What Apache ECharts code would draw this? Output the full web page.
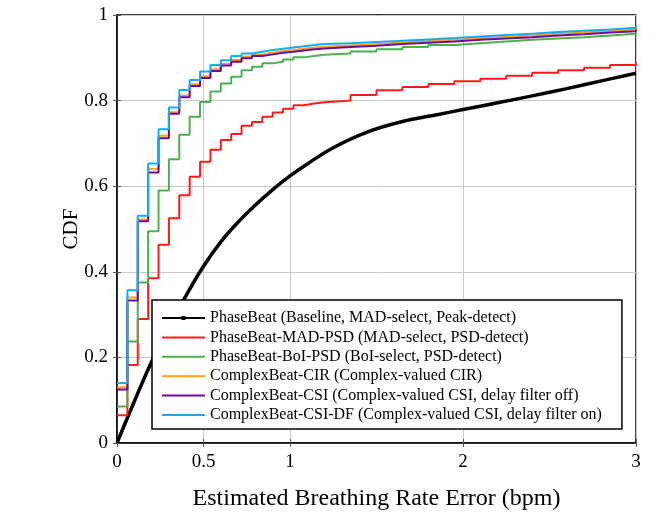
<!DOCTYPE html>
<html>
<head>
<meta charset="utf-8">
<title>CDF</title>
<script src="https://cdn.jsdelivr.net/npm/echarts@6.0.0/dist/echarts.min.js"></script>
<style>
    html, body { margin: 0; padding: 0; background: #fff; }
    #chart { width: 656px; height: 519px; }
</style>
</head>
<body>
<div id="chart"></div>
<script>
//误差台阶位置 (bpm)
var stepX = [0, 0.06, 0.12, 0.18, 0.24, 0.3, 0.36, 0.42, 0.48, 0.54, 0.6, 0.66, 0.72, 0.78, 0.84, 0.9, 0.96, 1.02, 1.08, 1.14, 1.2,
    1.35, 1.5, 1.65, 1.8, 1.95, 2.1, 2.25, 2.4, 2.55, 2.7, 2.85, 3.0];
//各方法的CDF
var madPsd = [0.065, 0.182, 0.29, 0.385, 0.463, 0.525, 0.579, 0.622, 0.657, 0.685, 0.708, 0.722, 0.741, 0.75, 0.762, 0.772, 0.781, 0.789, 0.793, 0.796, 0.80,
    0.813, 0.824, 0.832, 0.839, 0.845, 0.851, 0.858, 0.865, 0.871, 0.877, 0.883, 0.889];
var boiPsd = [0.085, 0.237, 0.375, 0.495, 0.59, 0.663, 0.72, 0.762, 0.797, 0.821, 0.84, 0.856, 0.871, 0.879, 0.887, 0.891, 0.896, 0.901, 0.904, 0.907, 0.91,
    0.915, 0.92, 0.925, 0.93, 0.934, 0.938, 0.942, 0.945, 0.948, 0.952, 0.956, 0.959];
var cir = [0.13, 0.34, 0.522, 0.64, 0.718, 0.773, 0.812, 0.838, 0.857, 0.873, 0.886, 0.895, 0.903, 0.908, 0.912, 0.916, 0.918, 0.921, 0.924, 0.926, 0.929,
    0.932, 0.936, 0.939, 0.942, 0.946, 0.949, 0.952, 0.956, 0.959, 0.963, 0.966, 0.97];
var csi = [0.125, 0.333, 0.518, 0.632, 0.712, 0.769, 0.808, 0.834, 0.853, 0.869, 0.882, 0.891, 0.899, 0.904, 0.908, 0.912, 0.914, 0.917, 0.92, 0.922, 0.925,
    0.928, 0.932, 0.935, 0.938, 0.942, 0.945, 0.948, 0.952, 0.955, 0.959, 0.962, 0.966];
var csiDf = [0.14, 0.357, 0.531, 0.653, 0.733, 0.784, 0.825, 0.848, 0.868, 0.883, 0.894, 0.904, 0.91, 0.914, 0.918, 0.921, 0.924, 0.927, 0.93, 0.932, 0.934,
    0.937, 0.94, 0.943, 0.946, 0.95, 0.953, 0.956, 0.96, 0.963, 0.966, 0.97, 0.973];
//PhaseBeat基线 (平滑曲线)
var baseX = [0, 0.1, 0.2, 0.3, 0.4, 0.5, 0.6, 0.7, 0.8, 0.9, 1.0, 1.1, 1.25, 1.45, 1.65, 1.85, 2.0, 2.2, 2.4, 2.6, 2.8, 3.0];
var baseY = [0, 0.097, 0.19, 0.27, 0.345, 0.413, 0.47, 0.516, 0.556, 0.592, 0.624, 0.652, 0.69, 0.727, 0.751, 0.767, 0.779, 0.795, 0.811, 0.828, 0.846, 0.864];
//刻度
var xTicks = [0, 0.5, 1, 2, 3];

var names = [
    'PhaseBeat (Baseline, MAD-select, Peak-detect)',
    'PhaseBeat-MAD-PSD (MAD-select, PSD-detect)',
    'PhaseBeat-BoI-PSD (BoI-select, PSD-detect)',
    'ComplexBeat-CIR (Complex-valued CIR)',
    'ComplexBeat-CSI (Complex-valued CSI, delay filter off)',
    'ComplexBeat-CSI-DF (Complex-valued CSI, delay filter on)'
];
var colors = ['#000000', '#ff1a1a', '#4caf50', '#ff9f1a', '#6a0d9e', '#12aef0'];

//图例图标: 细线, 基线带一个小点
var lineIcon = 'path://M0,0H43V2H0Z';
var dotIcon = 'path://M0,1H43V3H0Z M19.5,0H23.5V4H19.5Z';

function pairs(xs, ys) {
    var d = [];
    for (var i = 0; i < xs.length; i++) {
        d.push([xs[i], ys[i]]);
    }
    return d;
}

var chart = echarts.init(document.getElementById('chart'));
var font = 'Liberation Serif';

function stepSeries(idx, values) {
    return {
        name: names[idx],
        type: 'line',
        step: 'end',
        symbol: 'none',
        data: pairs(stepX, values),
        lineStyle: {color: colors[idx], width: 2},
        itemStyle: {color: colors[idx]}
    };
}

var legendData = [];
for (var i = 0; i < names.length; i++) {
    legendData.push({name: names[i], icon: i === 0 ? dotIcon : lineIcon});
}

var option = {
    backgroundColor: '#fff',
    animation: false,
    textStyle: {fontFamily: font},
    grid: {
        left: 117, top: 15, width: 519, height: 428,
        show: true, borderColor: '#000', borderWidth: 1.5, backgroundColor: 'transparent'
    },
    legend: {
        orient: 'vertical',
        left: 152,
        top: 300,
        itemWidth: 43,
        itemHeight: 14,
        itemGap: 3.4,
        padding: [10, 20, 6, 10],
        backgroundColor: '#fff',
        borderColor: '#000',
        borderWidth: 1.5,
        borderRadius: 0,
        textStyle: {fontFamily: font, fontSize: 16, color: '#000'},
        data: legendData
    },
    xAxis: [{
        type: 'value',
        min: 0, max: 3, interval: 0.5,
        name: 'Estimated Breathing Rate Error (bpm)',
        nameLocation: 'middle',
        nameGap: 44,
        nameMoveOverlap: false,
        nameTextStyle: {fontFamily: font, fontSize: 24, color: '#000'},
        axisLine: {show: true, lineStyle: {color: '#000', width: 1.5}},
        axisTick: {show: true, inside: true, length: 4, customValues: xTicks, lineStyle: {color: '#555'}},
        axisLabel: {customValues: xTicks, fontFamily: font, fontSize: 19, color: '#000', margin: 10},
        splitLine: {show: true, lineStyle: {color: '#c8c8c8', width: 1}}
    }, {
        type: 'value',
        position: 'top',
        min: 0, max: 3, interval: 0.5,
        axisLine: {show: false},
        axisTick: {show: true, inside: true, length: 4, customValues: xTicks, lineStyle: {color: '#555'}},
        axisLabel: {show: false},
        splitLine: {show: false}
    }],
    yAxis: [{
        type: 'value',
        min: 0, max: 1, interval: 0.2,
        name: 'CDF',
        nameLocation: 'middle',
        nameGap: 35,
        nameMoveOverlap: false,
        nameTextStyle: {fontFamily: font, fontSize: 21, color: '#000'},
        axisLine: {show: true, lineStyle: {color: '#000', width: 1.5}},
        axisTick: {show: true, inside: true, length: 4, lineStyle: {color: '#555'}},
        axisLabel: {fontFamily: font, fontSize: 19, color: '#000', margin: 9},
        splitLine: {show: true, lineStyle: {color: '#c8c8c8', width: 1}}
    }, {
        type: 'value',
        position: 'right',
        min: 0, max: 1, interval: 0.2,
        axisLine: {show: false},
        axisTick: {show: true, inside: true, length: 4, lineStyle: {color: '#555'}},
        axisLabel: {show: false},
        splitLine: {show: false}
    }],
    series: [
        {
            name: names[0],
            type: 'line',
            smooth: 0.4,
            symbol: 'none',
            data: pairs(baseX, baseY),
            lineStyle: {color: colors[0], width: 3.5},
            itemStyle: {color: colors[0]}
        },
        stepSeries(1, madPsd),
        stepSeries(2, boiPsd),
        stepSeries(3, cir),
        stepSeries(4, csi),
        stepSeries(5, csiDf)
    ]
};

chart.setOption(option);
window.addEventListener('resize', function () {
    chart.resize();
});
</script>
</body>
</html>
